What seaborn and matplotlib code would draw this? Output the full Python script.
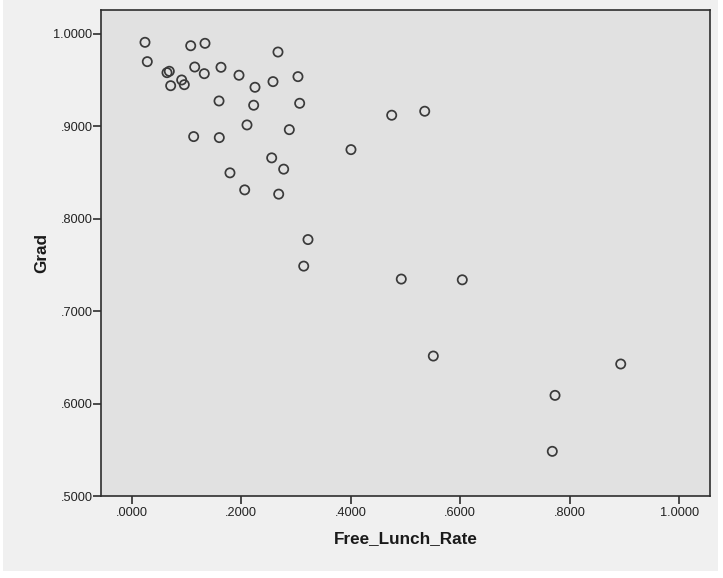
import matplotlib
matplotlib.use("Agg")
import matplotlib.pyplot as plt
from matplotlib.patches import Rectangle
from matplotlib.ticker import FuncFormatter, FixedLocator
import pandas as pd
import seaborn as sns

# Free lunch rate vs. graduation rate, one point per school
free_lunch_rate = [
    0.0243, 0.1078, 0.1339, 0.2672, 0.0285, 0.0645, 0.0687, 0.1151, 0.1631, 0.1326,
    0.1960, 0.3037, 0.0913, 0.0961, 0.0712, 0.2581, 0.2252, 0.1595, 0.2228, 0.3068,
    0.2106, 0.2879, 0.1132, 0.1600, 0.2557, 0.2776, 0.1795, 0.2064, 0.2685, 0.3220,
    0.3142, 0.4749, 0.5352, 0.4005, 0.4924, 0.6038, 0.5509, 0.8932, 0.7732, 0.7682,
]
grad = [
    0.9907, 0.9870, 0.9896, 0.9802, 0.9698, 0.9579, 0.9594, 0.9640, 0.9637, 0.9568,
    0.9551, 0.9536, 0.9500, 0.9449, 0.9438, 0.9482, 0.9421, 0.9273, 0.9227, 0.9248,
    0.9014, 0.8963, 0.8888, 0.8877, 0.8658, 0.8536, 0.8496, 0.8312, 0.8266, 0.7775,
    0.7488, 0.9119, 0.9162, 0.8747, 0.7348, 0.7340, 0.6516, 0.6430, 0.6091, 0.5486,
]
x_ticks = [0.0, 0.2, 0.4, 0.6, 0.8, 1.0]
y_ticks = [0.5, 0.6, 0.7, 0.8, 0.9, 1.0]

df = pd.DataFrame({"Free_Lunch_Rate": free_lunch_rate, "Grad": grad})

sns.set_style("white")
plt.rcParams["font.family"] = ["Liberation Sans", "DejaVu Sans"]

W, H = 723, 578
fig = plt.figure(figsize=(W / 100, H / 100), dpi=100, facecolor="white")
# light grey chart panel with a thin white margin
panel = Rectangle((3 / W, 1 - 571 / H), 715 / W, 571 / H,
                  transform=fig.transFigure, facecolor="#f0f0f0",
                  edgecolor="none", zorder=-10)
fig.patches.append(panel)

ax = fig.add_axes([101.3 / W, 1 - 496.3 / H, (709.7 - 101.3) / W, (496.3 - 10.3) / H])
ax.set_zorder(1)
ax.set_facecolor("#e1e1e1")

sns.scatterplot(data=df, x="Free_Lunch_Rate", y="Grad", ax=ax, marker="o",
                s=44, facecolor="none", edgecolor="#3a3a3a", linewidth=1.25,
                legend=False, zorder=3)

ax.set_xlim(-0.0555, 1.0557)
ax.set_ylim(0.5, 1.0253)


def spss_fmt(v, pos=None):
    s = f"{v:.4f}"
    return s[1:] if s.startswith("0.") else s


ax.xaxis.set_major_locator(FixedLocator(x_ticks))
ax.yaxis.set_major_locator(FixedLocator(y_ticks))
ax.xaxis.set_major_formatter(FuncFormatter(spss_fmt))
ax.yaxis.set_major_formatter(FuncFormatter(spss_fmt))

for side in ["left", "bottom", "top", "right"]:
    ax.spines[side].set_visible(True)
    ax.spines[side].set_color("#2e2e2e")
    ax.spines[side].set_linewidth(1.2)

ax.tick_params(axis="both", which="major", direction="out", length=5.5,
               width=1.2, color="#2e2e2e", labelsize=9.2, labelcolor="#222222")
ax.tick_params(axis="x", pad=2.5, bottom=True)
ax.tick_params(axis="y", pad=0.8, left=True)

ax.set_xlabel("Free_Lunch_Rate", fontsize=12.3, fontweight="bold", color="#1a1a1a", labelpad=8.5)
ax.set_ylabel("Grad", fontsize=12.3, fontweight="bold", color="#1a1a1a", labelpad=3)

fig.savefig("out.png", dpi=100, facecolor=fig.get_facecolor())
